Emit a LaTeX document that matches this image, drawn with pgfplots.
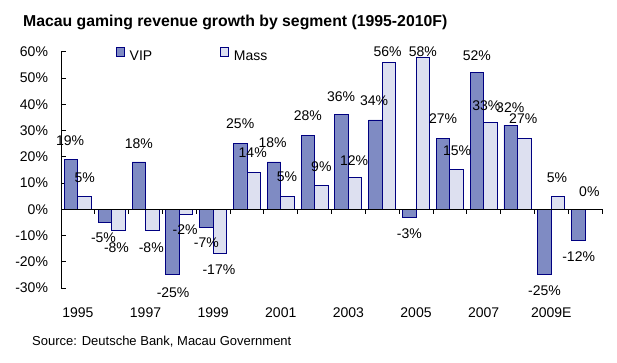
\documentclass[border=0pt]{standalone}
\usepackage{fontspec}
\setmainfont{Liberation Sans}
\usepackage{pgfplots}
\pgfplotsset{compat=1.18}
\usepackage{pgfplotstable}
\definecolor{vipfill}{HTML}{7F8BC3}
\definecolor{massfill}{HTML}{DDE0F0}
\definecolor{edge}{HTML}{000080}
\pgfplotsset{sqlegend/.style={legend image code/.code={\draw[##1, line width=0.7pt] (0pt,0.8pt) rectangle (8pt,9.2pt);}}}

\pgfplotstableread{
x y dx dy
0 19 -1 19
1 -5 -1.5 -15.6
2 18 0 18
3 -25 0.5 -18
4 -7 0 -15.4
5 25 0 19.5
6 18 -1.5 18.8
7 28 0 20
8 36 -0.5 18
9 34 -1.3 19.7
10 -3 0 -16.3
11 27 0 20
12 52 0 17
13 32 -0.5 18
14 -25 0 -16.2
15 -12 0.3 -16.3
}\vipdata

\pgfplotstableread{
x y dx dy
0 5 0 18
1 -8 -2 -17
2 -8 -1 -17
3 -2 -1 -15.5
4 -17 -1 -15.4
5 14 -1 19.5
6 5 -0.5 19
7 9 0 18.7
8 12 -1 17.4
9 56 -1.4 10.9
10 58 0 5.6
11 15 0.5 19
12 33 -4 17
13 27 -1 19.6
14 5 -1 18.2
15 0 -2.5 17.3
}\massdata

\begin{document}
\begin{tikzpicture}
\useasboundingbox (0,0) rectangle (617pt,363pt);
\begin{axis}[
  at={(61pt,75pt)}, anchor=south west,
  scale only axis, width=541pt, height=236.3pt,
  xmin=-0.5, xmax=15.5, ymin=-30, ymax=60,
  ybar=0pt, bar width=13.5pt,
  clip=false,
  axis y line=left, axis x line=bottom,
  x axis line style={draw=none},
  y axis line style={-, line width=0.8pt, black},
  ytick={-30,-20,...,60},
  yticklabels={-30\%,-20\%,-10\%,0\%,10\%,20\%,30\%,40\%,50\%,60\%},
  ytick style={line width=0.8pt, black},
  ytick align=inside,
  major tick length=5pt,
  xtick={0,2,...,14},
  xticklabels={1995,1997,1999,2001,2003,2005,2007,2009E},
  xtick style={draw=none},
  tick label style={font=\fontsize{14}{16}\selectfont, text=black},
  yticklabel style={xshift=-9.5pt},
  xticklabel style={yshift=-14pt},
  nodes near coords={\pgfmathprintnumber[assume math mode=true]{\pgfplotspointmeta}\%},
  visualization depends on={\thisrow{dx} \as \dx},
  visualization depends on={\thisrow{dy} \as \dy},
  every node near coord/.append style={anchor=center, xshift=\dx pt, yshift=\dy pt,
     font=\fontsize{14}{16}\selectfont, text=black, inner sep=0pt},
  legend columns=2,
  legend style={draw=none, fill=none, anchor=west, at={(axis cs:1.127,58.47)},
     inner sep=0pt, outer sep=0pt, font=\fontsize{14}{16}\selectfont,
     /tikz/every odd column/.append style={column sep=3pt},
     /tikz/every even column/.append style={column sep=66pt}},
]
\addplot[fill=vipfill, draw=edge, line width=0.9pt, sqlegend]
  table[x=x, y=y] {\vipdata};
\addlegendentry{VIP}
\addplot[fill=massfill, draw=edge, line width=0.9pt, sqlegend]
  table[x=x, y=y] {\massdata};
\addlegendentry{Mass}
\draw[line width=0.8pt, black] (axis cs:-0.5,0) -- (axis cs:15.5,0);
\pgfplotsinvokeforeach{0.5,1.5,2.5,3.5,4.5,5.5,6.5,7.5,8.5,9.5,10.5,11.5,12.5,13.5,14.5,15.5}{
  \draw[line width=0.8pt, black] (axis cs:#1,0) -- ++(0pt,-4.5pt);
}
\end{axis}
\node[anchor=base west, inner sep=0pt, font=\bfseries\fontsize{15.8}{19}\selectfont]
  at (23pt,336.3pt) {Macau gaming revenue growth by segment (1995-2010F)};
\node[anchor=base west, inner sep=0pt, font=\fontsize{13}{15}\selectfont]
  at (32pt,17pt) {Source: Deutsche Bank, Macau Government};
\end{tikzpicture}
\end{document}
